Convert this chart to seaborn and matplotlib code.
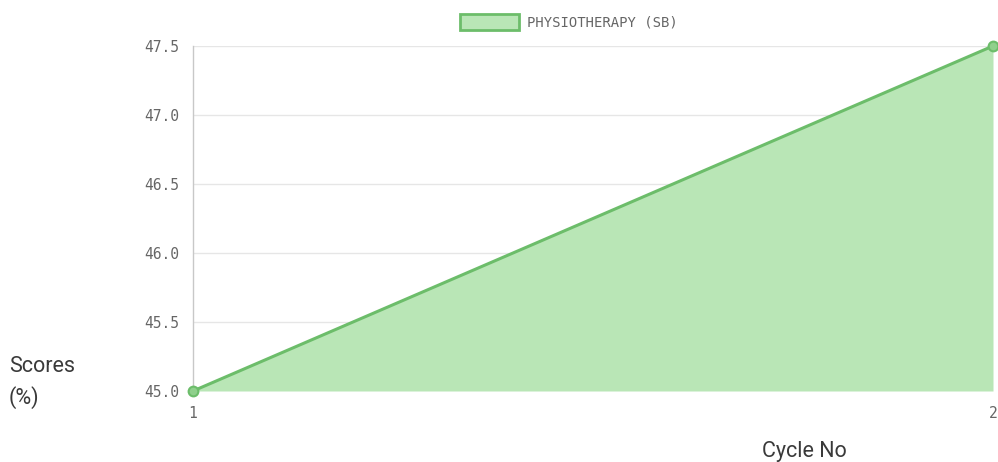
import matplotlib
matplotlib.use("Agg")
import matplotlib.pyplot as plt
import seaborn as sns
import pandas as pd
from matplotlib.patches import Patch

cycles = [1, 2]
scores = [45.0, 47.5]
series_name = "PHYSIOTHERAPY (SB)"
yticks = [45.0, 45.5, 46.0, 46.5, 47.0, 47.5]

df = pd.DataFrame({"cycle": cycles, "score": scores})

sns.set_style("white")
fig = plt.figure(figsize=(9.98, 4.62), dpi=100)
ax = fig.add_axes([193/998, 1-391/462, 800/998, 345/462])

line_c = "#6cbd6a"
fill_c = "#b9e6b6"

ax.fill_between(df["cycle"], df["score"], 45.0, color=fill_c, lw=0, zorder=2)
sns.lineplot(data=df, x="cycle", y="score", ax=ax, color=line_c, lw=2.2,
             marker="o", markersize=7, markerfacecolor="#8fd08c",
             markeredgecolor=line_c, markeredgewidth=1.5, zorder=3, clip_on=False)

ax.set_xlim(1, 2)
ax.set_ylim(45.0, 47.5)
ax.set_yticks(yticks)
ax.set_yticklabels([f"{v:.1f}" for v in yticks])
ax.set_xticks(cycles)
ax.set_xticklabels([str(c) for c in cycles])

for y in yticks:
    ax.axhline(y, color="#e6e6e6", lw=1, zorder=1)
ax.axvline(2, color="#e6e6e6", lw=1, zorder=1)

for s in ["top", "right", "bottom"]:
    ax.spines[s].set_visible(False)
ax.spines["left"].set_color("#c8c8c8")
ax.spines["left"].set_linewidth(1)

mono = "DejaVu Sans Mono"
ax.tick_params(axis="y", length=9, color="#e0e0e0", labelsize=10.5, labelcolor="#666666", pad=1)
ax.tick_params(axis="x", length=8, color="#e0e0e0", labelsize=10.5, labelcolor="#666666", pad=3)
for lab in ax.get_yticklabels() + ax.get_xticklabels():
    lab.set_fontfamily(mono)

ax.set_xlabel("")
ax.set_ylabel("")

lab_kw = dict(fontsize=15.5, family="Roboto", weight="normal", color="#3a3a3a", va="center")
fig.text(9/998, 1-366/462, "Scores", ha="left", **lab_kw)
fig.text(9/998, 1-398/462, "(%)", ha="left", **lab_kw)
fig.text(804/998, 1-452/462, "Cycle No", ha="center", **lab_kw)

handle = Patch(facecolor=fill_c, edgecolor=line_c, linewidth=2)
leg = fig.legend([handle], [series_name], loc="center", bbox_to_anchor=(569/998, 1-22/462),
                 frameon=False, handlelength=4.2, handleheight=1.3, handletextpad=0.6,
                 prop={"family": mono, "size": 10})
for t in leg.get_texts():
    t.set_color("#666666")

fig.savefig("out.png", dpi=100)
